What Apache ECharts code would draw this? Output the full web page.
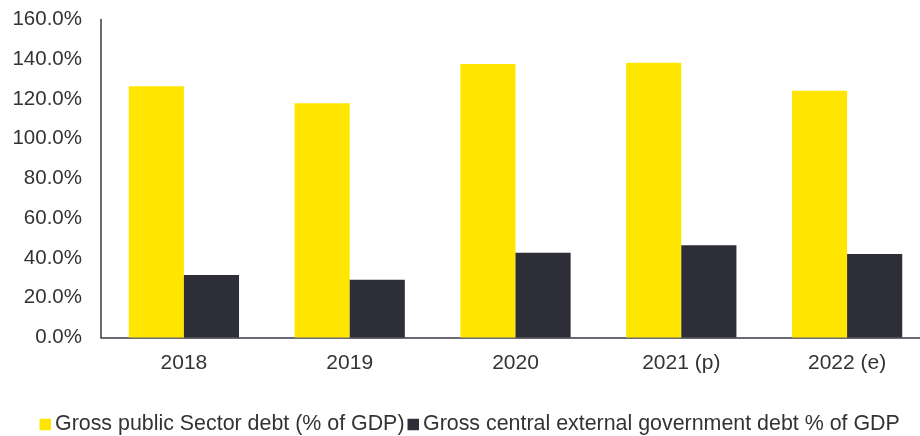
<!DOCTYPE html>
<html><head><meta charset="utf-8">
<script src="https://cdn.jsdelivr.net/npm/echarts@6/dist/echarts.min.js"></script>
<style>html,body{margin:0;padding:0;background:#fff;overflow:hidden}#c{width:930px;height:436px}</style>
</head><body><div id="c"></div>
<script>
const categories = ['2018', '2019', '2020', '2021 (p)', '2022 (e)'];
const publicDebt = [126.4, 117.8, 137.6, 138.3, 124.2];
const externalDebt = [31.4, 29.1, 42.7, 46.4, 42.0];
const seriesNames = ['Gross public Sector debt (% of GDP)', 'Gross central external government debt % of GDP'];

const chart = echarts.init(document.getElementById('c'), null, {renderer: 'canvas'});
const font = 'Liberation Sans, Arial, sans-serif';
chart.setOption({
  animation: false,
  textStyle: {fontFamily: font},
  grid: {left: 101, right: 0, top: 19.5, bottom: 98.5, containLabel: false},
  legend: {
    top: 409, left: 34.5,
    itemWidth: 11.5, itemHeight: 11.5, itemGap: 3,
    icon: 'rect',
    textStyle: {fontSize: 21.4, color: '#333', fontFamily: font, padding: [0, 0, 0, -1]},
    data: seriesNames
  },
  xAxis: {
    type: 'category', data: categories,
    axisLine: {lineStyle: {color: '#3a3a44', width: 1.5}},
    axisTick: {show: false},
    axisLabel: {fontSize: 21, color: '#333', margin: 15, fontFamily: font}
  },
  yAxis: {
    type: 'value', min: 0, max: 160, interval: 20,
    axisLine: {show: true, lineStyle: {color: '#3a3a44', width: 1.5}},
    axisTick: {show: false},
    splitLine: {show: false},
    axisLabel: {fontSize: 20.5, color: '#333', margin: 19, fontFamily: font,
      formatter: v => v.toFixed(1) + '%'}
  },
  series: [
    {name: seriesNames[0], type: 'bar', data: publicDebt, barGap: '0%', barCategoryGap: '33.5%',
     itemStyle: {color: '#FFE600'}},
    {name: seriesNames[1], type: 'bar', data: externalDebt,
     itemStyle: {color: '#2E2E38'}}
  ]
});
</script></body></html>
